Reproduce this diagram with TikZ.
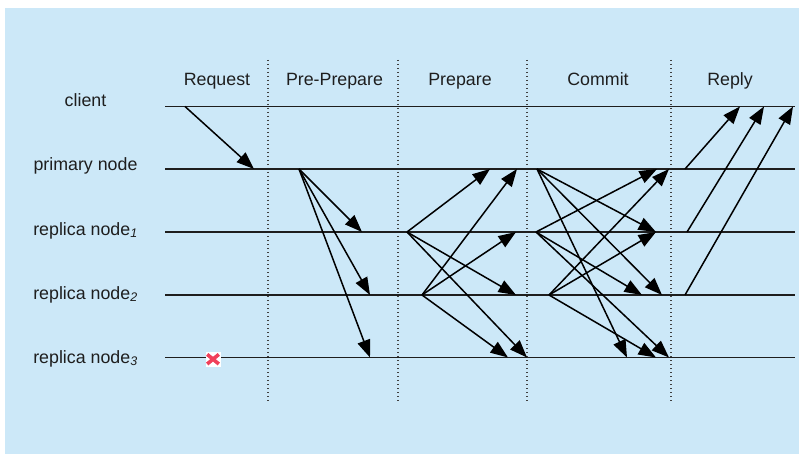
\documentclass[tikz,border=0pt]{standalone}
\usepackage{fontspec}
\setmainfont{Liberation Sans}
\usetikzlibrary{arrows.meta}
\definecolor{bg}{RGB}{204,232,248}
\definecolor{crossred}{RGB}{240,64,90}
\definecolor{ink}{RGB}{30,30,30}
\begin{document}
\begin{tikzpicture}[x=1pt,y=-1pt,
  lane/.style={line width=1.5pt, draw=ink},
  phase/.style={line width=1.2pt, draw=ink!85, dash pattern=on 1.2pt off 2.8pt},
  msg/.style={line width=1.5pt, draw=black, -{Triangle[length=17.5pt,width=13pt]}},
  lbl/.style={anchor=base, text=ink, font=\fontsize{17.8}{20}\selectfont, inner sep=0pt}]
\useasboundingbox (0,0) rectangle (799,454);
\fill[bg] (5,8) rectangle (799,454);

% phase dividers
\foreach \n/\x in {d1/268, d2/398, d3/527, d4/671}{
  \coordinate (\n t) at (\x,60);
  \coordinate (\n b) at (\x,403);
  \draw[phase] (\n t) -- (\n b);
}

% phase titles
\node[lbl] (tReq) at (217,86) {Request};
\node[lbl] (tPP) at (334.5,86) {Pre-Prepare};
\node[lbl] (tPa) at (460,86) {Prepare};
\node[lbl] (tCm) at (598,86) {Commit};
\node[lbl] (tRp) at (730,86) {Reply};

% lane labels
\node[lbl] (lc) at (85.5,107) {client};
\node[lbl] (lp) at (85.5,171) {primary node};
\node[lbl] (l1) at (85.5,235) {replica node\textsubscript{\textit{1}}};
\node[lbl] (l2) at (85.5,299) {replica node\textsubscript{\textit{2}}};
\node[lbl] (l3) at (85.5,363) {replica node\textsubscript{\textit{3}}};

% lanes
\foreach \n/\y in {c/106.5, p/169, a/232, b/295, r/357.5}{
  \coordinate (\n L) at (165,\y);
  \coordinate (\n R) at (795,\y);
  \draw[lane] (\n L) -- (\n R);
}

% failed replica marker
\node[fill=white, minimum size=15pt, inner sep=0pt] (fail) at (213,359.2) {};
\draw[crossred, line width=3.6pt] ([shift={(-5.8,-4.8)}]fail.center) -- ([shift={(5.8,4.8)}]fail.center);
\draw[crossred, line width=3.6pt] ([shift={(-5.8,4.8)}]fail.center) -- ([shift={(5.8,-4.8)}]fail.center);

% Request
\coordinate (rq0) at (185,106.5);
\coordinate (rq1) at (254,169);
\draw[msg] (rq0) -- (rq1);

% Pre-Prepare
\coordinate (pp0) at (299,169);
\coordinate (pp1) at (362,232);
\coordinate (pp2) at (370,295);
\coordinate (pp3) at (370,357.5);
\draw[msg] (pp0) -- (pp1);
\draw[msg] (pp0) -- (pp2);
\draw[msg] (pp0) -- (pp3);

% Prepare
\coordinate (pa1) at (407,232);
\coordinate (pa2) at (422,295);
\coordinate (pa1p) at (490,169);
\coordinate (pa1b) at (516,295);
\coordinate (pa1r) at (527,357.5);
\coordinate (pa2p) at (517,169);
\coordinate (pa2a) at (516,232);
\coordinate (pa2r) at (508,357.5);
\draw[msg] (pa1) -- (pa1p);
\draw[msg] (pa1) -- (pa1b);
\draw[msg] (pa1) -- (pa1r);
\draw[msg] (pa2) -- (pa2p);
\draw[msg] (pa2) -- (pa2a);
\draw[msg] (pa2) -- (pa2r);

% Commit
\coordinate (cm0) at (537,169);
\coordinate (cm1) at (536,232);
\coordinate (cm2) at (549,295);
\coordinate (cm0a) at (656,232);
\coordinate (cm0b) at (662,295);
\coordinate (cm0r) at (627,357.5);
\coordinate (cm1p) at (657,169);
\coordinate (cm1b) at (642,295);
\coordinate (cm1r) at (669,357.5);
\coordinate (cm2p) at (669,169);
\coordinate (cm2a) at (656,232);
\coordinate (cm2r) at (656,357.5);
\draw[msg] (cm0) -- (cm0a);
\draw[msg] (cm0) -- (cm0b);
\draw[msg] (cm0) -- (cm0r);
\draw[msg] (cm1) -- (cm1p);
\draw[msg] (cm1) -- (cm1b);
\draw[msg] (cm1) -- (cm1r);
\draw[msg] (cm2) -- (cm2p);
\draw[msg] (cm2) -- (cm2a);
\draw[msg] (cm2) -- (cm2r);

% Reply
\coordinate (rp0) at (685,169);
\coordinate (rp1) at (687,232);
\coordinate (rp2) at (685,295);
\coordinate (rp0c) at (740,106.5);
\coordinate (rp1c) at (764,106.5);
\coordinate (rp2c) at (793,106.5);
\draw[msg] (rp0) -- (rp0c);
\draw[msg] (rp1) -- (rp1c);
\draw[msg] (rp2) -- (rp2c);
\end{tikzpicture}
\end{document}
